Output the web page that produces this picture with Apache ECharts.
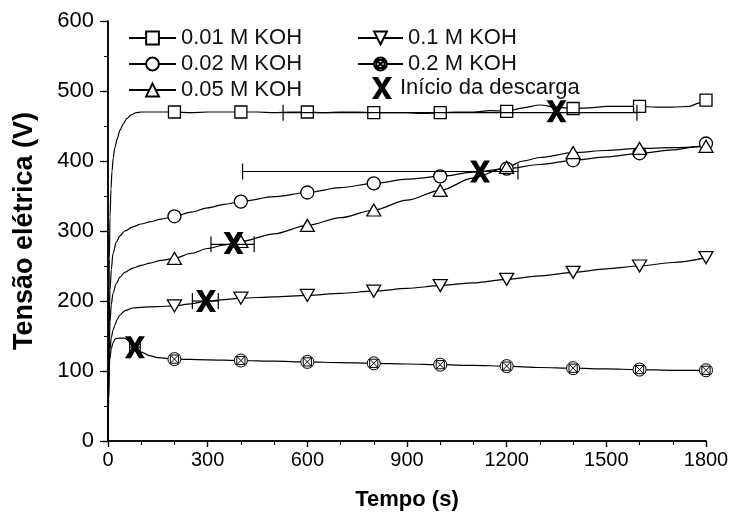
<!DOCTYPE html>
<html>
<head>
<meta charset="utf-8">
<script src="https://cdn.jsdelivr.net/npm/echarts@6/dist/echarts.min.js"></script>
<style>
  html, body { margin: 0; padding: 0; background: #fff; }
  #chart { width: 734px; height: 520px; }
</style>
</head>
<body>
<div id="chart"></div>
<script>
// series names
const names = ["0.01 M KOH", "0.02 M KOH", "0.05 M KOH", "0.1 M KOH", "0.2 M KOH"];
const dischargeName = "Início da descarga";

// curves: [tempo (s), tensão (V)]
const koh001 = [[0,0],[2,150],[4,260],[6,320],[9,360],[12,385],[16,405],[20,418],[28,432],[36,444],[46,453],[57,461],[70,466],[85,469],[100,470],[150,470],[200,470],[250,469],[300,470],[350,470],[400,470],[450,470],[500,469],[550,470],[600,470],[650,469],[700,470],[750,470],[800,469],[850,469],[900,469],[950,468],[1000,469],[1050,470],[1100,470],[1150,472],[1200,471],[1250,476],[1300,480],[1350,477],[1400,475],[1450,476],[1500,478],[1550,478],[1600,478],[1650,477],[1700,477],[1750,478],[1780,483],[1800,487]];
const koh002 = [[0,0],[3,150],[6,215],[10,245],[15,268],[25,284],[36,293],[50,300],[75,306],[100,310],[126,313],[160,317],[200,321],[250,327],[300,333],[350,338],[400,342],[500,349],[600,355],[700,362],[800,368],[900,374],[1000,378],[1100,384],[1200,389],[1300,395],[1400,401],[1500,406],[1600,411],[1700,416],[1780,421],[1800,425]];
const koh005 = [[0,0],[3,120],[6,170],[10,195],[15,211],[25,225],[36,234],[50,241],[75,247],[100,251],[126,254],[160,258],[200,261],[250,268],[300,275],[350,280],[400,285],[500,296],[600,308],[700,319],[800,330],[900,344],[1000,358],[1100,376],[1200,391],[1250,400],[1300,405],[1400,412],[1500,415],[1600,418],[1700,419],[1800,421]];
const koh01 = [[0,0],[3,100],[6,130],[10,148],[15,158],[20,165],[28,174],[36,180],[50,186],[75,190],[100,191],[150,192],[200,193],[250,196],[300,200],[350,202],[400,204],[500,206],[600,208],[700,211],[800,214],[900,218],[1000,222],[1100,226],[1200,231],[1300,236],[1400,241],[1500,246],[1600,250],[1700,255],[1800,262]];
const koh02 = [[0,0],[2,60],[5,116],[10,132],[15,140],[22,146],[35,147],[50,147],[65,143],[81,135],[100,127],[125,122],[150,119],[200,117],[300,116],[400,115],[500,114],[600,113],[700,112],[800,111],[900,110],[1000,109],[1100,108],[1200,107],[1300,105],[1400,104],[1500,103],[1600,102],[1700,101],[1800,101]];

// times that carry a symbol
const markerTimes = [200, 400, 600, 800, 1000, 1200, 1400, 1600, 1800];

// discharge start: [tempo, tensão]
const discharge = [[1350,471],[1120,385],[378,283],[295,200],[81,134]];
// horizontal error bars: [from, to, tensão]
const dischargeErr = [[527,1592,469],[405,1234,385],[310,440,281],[254,332,200],[65,97,134]];

// axis ticks
const xTicks = { min: 0, max: 1800, interval: 300 };
const yTicks = { min: 0, max: 600, interval: 100 };

const FONT = "'Liberation Sans', Arial, sans-serif";

const xSymbol = "path://M0,0H6L10,7L14,0H20L13,11L20,22H14L10,15L6,22H0L7,11Z";
const crossCircle = "path://M10,0.5A9.5,9.5,0,1,1,9.99,0.5ZM4,4H16V16H4ZM4,4L16,16M16,4L4,16";

const curves = [koh001, koh002, koh005, koh01, koh02];
const symbols = ["rect", "circle", "triangle", "triangle", crossCircle];
const rotates = [0, 0, 0, 180, 0];
const sizes = [12, 13, [14, 12], [14, 12], 13];
const borders = [1.3, 1.3, 1.3, 1.3, 1];

function withMarkers(points) {
  return points.map(p => markerTimes.indexOf(p[0]) >= 0
    ? { value: p }
    : { value: p, symbol: "none" });
}

const lineSeries = curves.map((pts, i) => ({
  name: names[i],
  type: "line",
  data: withMarkers(pts),
  symbol: symbols[i],
  symbolRotate: rotates[i],
  symbolSize: sizes[i],
  showSymbol: true,
  showAllSymbol: true,
  smooth: 0.3,
  smoothMonotone: "x",
  lineStyle: { color: "#000", width: 1.2 },
  itemStyle: { color: "#fff", borderColor: "#000", borderWidth: borders[i] },
  z: 3,
}));

const chart = echarts.init(document.getElementById("chart"), null, { renderer: "canvas" });

const baseAxis = {
  type: "value",
  axisLine: { show: true, lineStyle: { color: "#000", width: 1.5 } },
  splitLine: { show: false },
};

const legendText = { fontSize: 22, lineHeight: 22, color: "#111", fontFamily: FONT };

chart.setOption({
  animation: false,
  backgroundColor: "#fff",
  grid: { left: 108, right: 28, top: 21, bottom: 79 },
  legend: [
    {
      data: names.slice(0, 3),
      orient: "vertical",
      left: 128, top: 27,
      itemWidth: 47, itemHeight: 16, itemGap: 4,
      padding: 0,
      selectedMode: false,
      textStyle: legendText,
    },
    {
      data: names.slice(3, 5),
      orient: "vertical",
      left: 357, top: 27,
      itemWidth: 45, itemHeight: 16, itemGap: 4,
      padding: 0,
      selectedMode: false,
      textStyle: legendText,
    },
    {
      data: [dischargeName],
      orient: "vertical",
      left: 372, top: 77,
      itemWidth: 26, itemHeight: 22,
      padding: 0,
      selectedMode: false,
      textStyle: legendText,
    },
  ],
  xAxis: [
    Object.assign({}, baseAxis, xTicks, {
      position: "bottom",
      name: "Tempo (s)",
      nameLocation: "middle",
      nameGap: 48,
      nameTextStyle: { fontSize: 22, fontWeight: "bold", color: "#000", fontFamily: FONT },
      axisTick: { show: true, inside: false, length: 6, lineStyle: { color: "#000", width: 1.2 } },
      minorTick: { show: true, splitNumber: 3, length: 4, lineStyle: { color: "#000", width: 1 } },
      axisLabel: { fontSize: 20, color: "#000", margin: 9, fontFamily: FONT, formatter: v => String(v) },
    }),
    Object.assign({}, baseAxis, xTicks, {
      position: "top",
      axisTick: { show: true, inside: true, length: 6, lineStyle: { color: "#000", width: 1.2 } },
      minorTick: { show: true, splitNumber: 3, length: 4, lineStyle: { color: "#000", width: 1 } },
      axisLabel: { show: false },
    }),
  ],
  yAxis: [
    Object.assign({}, baseAxis, yTicks, {
      position: "left",
      name: "Tensão elétrica (V)",
      nameLocation: "middle",
      nameGap: 70,
      nameTextStyle: { fontSize: 27, fontWeight: "bold", color: "#000", fontFamily: FONT },
      axisTick: { show: true, inside: false, length: 8, lineStyle: { color: "#000", width: 1.2 } },
      minorTick: { show: true, splitNumber: 2, length: 4, lineStyle: { color: "#000", width: 1 } },
      axisLabel: { fontSize: 22, color: "#000", margin: 14, fontFamily: FONT },
    }),
    Object.assign({}, baseAxis, yTicks, {
      position: "right",
      axisTick: { show: true, inside: true, length: 6, lineStyle: { color: "#000", width: 1.2 } },
      minorTick: { show: true, splitNumber: 2, length: 4, lineStyle: { color: "#000", width: 1 } },
      axisLabel: { show: false },
    }),
  ],
  series: lineSeries.concat([
    {
      name: "erro",
      type: "custom",
      data: dischargeErr,
      encode: { x: [0, 1], y: 2 },
      z: 4,
      renderItem: function (params, api) {
        const a = api.coord([api.value(0), api.value(2)]);
        const b = api.coord([api.value(1), api.value(2)]);
        const h = 8;
        const style = { stroke: "#000", lineWidth: 1.2 };
        return {
          type: "group",
          children: [
            { type: "line", shape: { x1: a[0], y1: a[1], x2: b[0], y2: b[1] }, style: style },
            { type: "line", shape: { x1: a[0], y1: a[1] - h, x2: a[0], y2: a[1] + h }, style: style },
            { type: "line", shape: { x1: b[0], y1: b[1] - h, x2: b[0], y2: b[1] + h }, style: style },
          ],
        };
      },
    },
    {
      name: dischargeName,
      type: "scatter",
      data: discharge,
      symbol: xSymbol,
      symbolSize: [20, 22],
      itemStyle: { color: "#000", opacity: 1 },
      z: 5,
    },
  ]),
});
</script>
</body>
</html>
